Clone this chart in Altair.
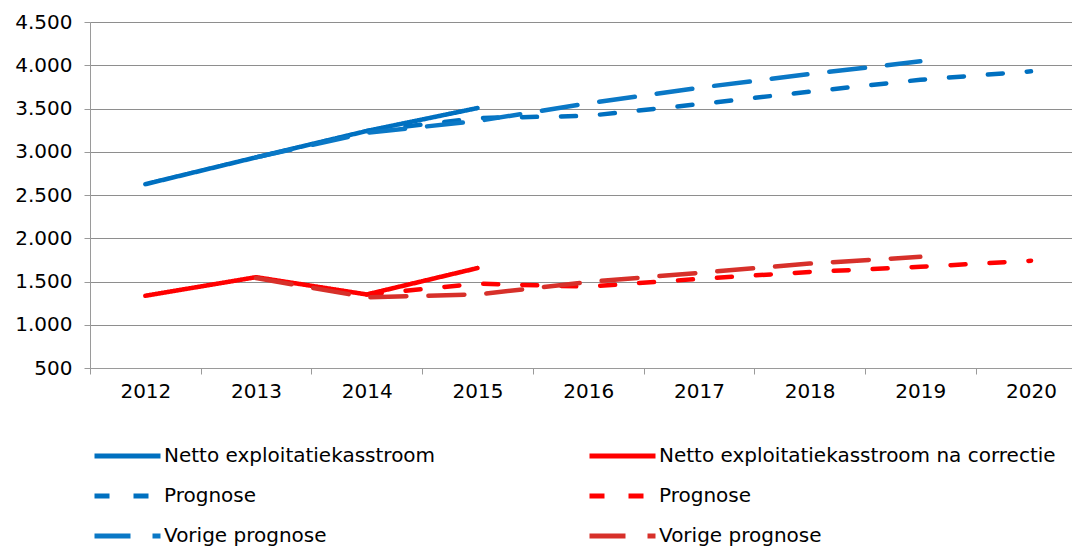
import altair as alt
import pandas as pd

# ---- data ----
series_names = [
    "Netto exploitatiekasstroom",
    "Netto exploitatiekasstroom na correctie",
    "Prognose",
    "Prognose ",
    "Vorige prognose",
    "Vorige prognose ",
]
series_colors = ["#0070C0", "#FF0000", "#0070C0", "#FF0000", "#0A78C6", "#D7302A"]
series_dash = [[1, 0], [1, 0], [15, 24], [15, 24], [36, 22], [36, 22]]

netto_years = [2012, 2013, 2014, 2015]
netto = [2625, 2935, 3240, 3505]
netto_corr = [1335, 1550, 1350, 1655]

prog_years = [2014, 2015, 2016, 2017, 2018, 2019, 2020]
prog_blue = [3240, 3390, 3415, 3550, 3695, 3832, 3930]
prog_red = [1350, 1475, 1440, 1530, 1610, 1670, 1740]

vorig_years = [2013, 2014, 2015, 2016, 2017, 2018, 2019]
vorig_blue = [2935, 3220, 3355, 3560, 3740, 3898, 4045]
vorig_red = [1540, 1318, 1350, 1495, 1600, 1707, 1785]

y_ticks = [500, 1000, 1500, 2000, 2500, 3000, 3500, 4000, 4500]
x_axis_values = [2011.5, 2012, 2012.5, 2013, 2013.5, 2014, 2014.5, 2015, 2015.5,
                 2016, 2016.5, 2017, 2017.5, 2018, 2018.5, 2019, 2019.5, 2020]

rows = []
for name, yrs, vals in [
    (series_names[0], netto_years, netto),
    (series_names[1], netto_years, netto_corr),
    (series_names[2], prog_years, prog_blue),
    (series_names[3], prog_years, prog_red),
    (series_names[4], vorig_years, vorig_blue),
    (series_names[5], vorig_years, vorig_red),
]:
    for yr, v in zip(yrs, vals):
        rows.append({"jaar": yr, "waarde": v, "serie": name})
df = pd.DataFrame(rows)

FONT = "DejaVu Sans"

legend = alt.Legend(
    title=None,
    orient="none",
    direction="horizontal",
    legendX=2,
    legendY=422,
    columns=2,
    symbolType="stroke",
    symbolSize=4356,
    symbolStrokeWidth=5,
    clipHeight=24,
    labelFont=FONT,
    labelFontSize=20,
    labelColor="#000000",
    labelOffset=1,
    labelLimit=600,
    rowPadding=16,
    columnPadding=151,
)

chart = (
    alt.Chart(df)
    .mark_line(strokeWidth=4.5, strokeCap="round", strokeJoin="round")
    .encode(
        x=alt.X(
            "jaar:Q",
            scale=alt.Scale(domain=[2011.5, 2020.37], nice=False, zero=False),
            axis=alt.Axis(
                title=None,
                values=x_axis_values,
                labelExpr="datum.value % 1 === 0 ? '' + datum.value : ''",
                tickOpacity={"condition": {"test": "datum.value % 1 === 0", "value": 0}, "value": 1},
                tickSize=6,
                tickColor="#9a9a9a",
                domainColor="#9a9a9a",
                grid=False,
                labelPadding=7,
                labelOverlap=False,
                labelFlush=False,
                labelFont=FONT,
                labelFontSize=20,
                labelColor="#000000",
            ),
        ),
        y=alt.Y(
            "waarde:Q",
            scale=alt.Scale(domain=[500, 4500], nice=False, zero=False),
            axis=alt.Axis(
                title=None,
                values=y_ticks,
                labelExpr="replace(format(datum.value, ','), ',', '.')",
                grid=True,
                gridColor="#8e8e8e",
                gridWidth=1.2,
                tickColor="#9a9a9a",
                domainColor="#9a9a9a",
                tickSize=6,
                labelPadding=12,
                labelOverlap=False,
                labelFlush=False,
                labelFont=FONT,
                labelFontSize=20,
                labelColor="#000000",
            ),
        ),
        color=alt.Color(
            "serie:N",
            scale=alt.Scale(domain=series_names, range=series_colors),
            legend=legend,
        ),
        strokeDash=alt.StrokeDash(
            "serie:N",
            scale=alt.Scale(domain=series_names, range=series_dash),
            legend=legend,
        ),
        detail="serie:N",
    )
    .properties(
        width=982,
        height=346,
        autosize=alt.AutoSizeParams(type="none"),
        padding={"left": 82, "top": 14, "right": 0, "bottom": 180},
    )
    .configure_view(stroke=None)
    .configure(background="white")
)

chart.save("out.html", embed_options={"renderer": "svg", "actions": False})
